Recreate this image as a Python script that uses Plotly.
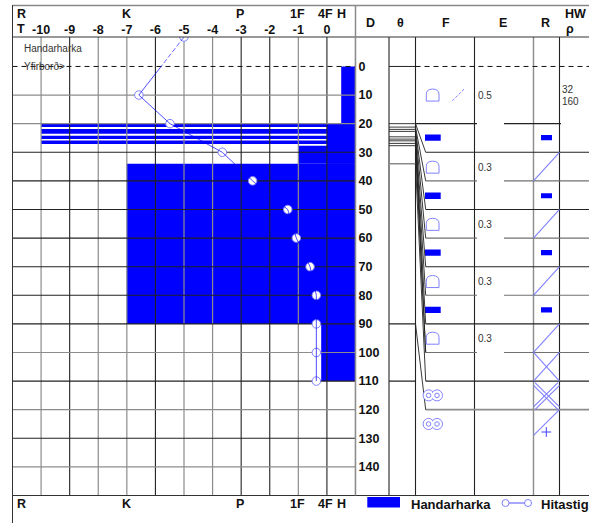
import plotly.graph_objects as go

W, H = 589, 523
FONT = "Liberation Sans"
BLUE = "#0000ff"
PALE = "#8080ff"
DARK = "#222222"
GRAY = "#8c8c8c"

# ---- data ----
x_ticks = [-10, -9, -8, -7, -6, -5, -4, -3, -2, -1, 0]
x_tick_labels = ["-10", "-9", "-8", "-7", "-6", "-5", "-4", "-3", "-2", "-1", "0"]
depth_ticks = [0, 10, 20, 30, 40, 50, 60, 70, 80, 90, 100, 110, 120, 130, 140]

hand_top = [0, 20, 19.9, 21.9, 24.2, 25.9, 27.7, 34, 90]
hand_bottom = [20, 34, 21.2, 23.5, 25.4, 27.1, 34, 90, 110]
hand_left = [0.5, 0, -10, -10, -10, -10, -1, -7, -0.2]
hand_right = [1, 1, 0, 0, 0, 0, 1, 1, 1]

temp_depth = [10, 20, 30, 40, 50, 60, 70, 80, 90, 100, 110]
temp_value = [-6.58, -5.49, -3.66, -2.6, -1.37, -1.07, -0.59, -0.37, -0.37, -0.37, -0.37]
temp_top_depth = [-10.3, 0]
temp_top_value = [-5.0, -5.8]

grid_x_dark = [-9, -6, -3, -2, 0]
grid_x_gray = [-10, -8, -7, -5, -4, -1, 1]
grid_y_dark = [30, 40, 50, 60, 70, 80, 90, 110, 130]
grid_y_gray = [10, 20, 100, 120, 140]

col_lines_dark = [389, 415.5, 474.5, 559.5]
col_lines_gray = [533.5]

full_rows_dark = [50, 70, 90, 110, 30]
split_rows_gray = [40, 60, 80, 100]

theta_depth = [20, 21.2, 22, 22.7, 24.6, 25.4, 26, 26.9, 27.7, 34, 90]
fan_depth = [30, 40, 50, 60, 70, 80, 90, 100, 100, 110, 120]

f_arch_depth = [10, 35.2, 55.2, 75.2, 95]
f_block_depth = [24.9, 45.2, 65.1, 85.1]
r_block_depth = [24.9, 45.2, 65.1, 85.1]
e_depth = [10, 35.2, 55.2, 75.2, 95]
e_text = ["0.5", "0.3", "0.3", "0.3", "0.3"]
twin_depth = [115, 125]
r_diag_rows = [(30, 40), (50, 60), (70, 80), (90, 100), (100, 110), (120, 129)]


def px(x):
    return x / W


def py(y):
    return 1 - y / H


def segs(items):
    xs, ys = [], []
    for x0, y0, x1, y1 in items:
        xs += [x0, x1, None]
        ys += [y0, y1, None]
    return xs, ys


fig = go.Figure()
Y_TOP = -10.3
Y_BOT = 150


def line(items, color, width=1.0, xaxis="x", dash=None):
    xs, ys = segs(items)
    fig.add_trace(go.Scatter(x=xs, y=ys, xaxis=xaxis, yaxis="y", mode="lines", hoverinfo="skip",
                             line=dict(color=color, width=width, dash=dash), showlegend=False))


# Handarharka bars
fig.add_trace(go.Bar(
    orientation="h",
    y=[(a + b) / 2 for a, b in zip(hand_top, hand_bottom)],
    width=[b - a for a, b in zip(hand_top, hand_bottom)],
    base=hand_left,
    x=[r - l for l, r in zip(hand_left, hand_right)],
    marker=dict(color=BLUE, line=dict(width=0)),
    showlegend=False, hoverinfo="skip",
))
# F and R blocks
fig.add_trace(go.Bar(orientation="h", xaxis="x2", yaxis="y", y=f_block_depth, width=[2.2] * 4,
                     base=[425] * 4, x=[15.7] * 4, marker=dict(color=BLUE, line=dict(width=0)),
                     showlegend=False, hoverinfo="skip"))
fig.add_trace(go.Bar(orientation="h", xaxis="x2", yaxis="y", y=r_block_depth, width=[1.8] * 4,
                     base=[541] * 4, x=[11] * 4, marker=dict(color=BLUE, line=dict(width=0)),
                     showlegend=False, hoverinfo="skip"))

# left grid
line([(v, Y_TOP, v, Y_BOT) for v in grid_x_gray], GRAY, 1.2)
line([(v, Y_TOP, v, Y_BOT) for v in grid_x_dark], DARK, 1.1)
line([(-11, v, 1, v) for v in grid_y_gray], GRAY, 1.2)
line([(-11, v, 1, v) for v in grid_y_dark], DARK, 1.1)
line([(-11, 0, 1, 0)], "#111111", 1, dash="5px,4px")

# right panel lines
line([(v, Y_TOP, v, Y_BOT) for v in col_lines_gray], GRAY, 1.4, "x2")
line([(v, Y_TOP, v, Y_BOT) for v in col_lines_dark], DARK, 1.1, "x2")
line([(389, 0, 415.5, 0)], DARK, 1, "x2")
line([(415.5, 0, 589, 0)], "#111111", 1, "x2", dash="5px,4px")
line([(415.5, 20, 477, 20), (504, 20, 561, 20)], DARK, 1.1, "x2")
line([(425.7, v, 589, v) for v in full_rows_dark], DARK, 1.1, "x2")
line([(425.7, 120, 589, 120)], GRAY, 1.8, "x2")
items = []
for v in split_rows_gray:
    items += [(425.7, v, 477, v), (504, v, 589, v)]
line(items, "#707070", 1.1, "x2")
line([(389, v, 415.5, v) for v in theta_depth[:9]], DARK, 0.9, "x2")
line([(389, 34, 415.5, 34)], GRAY, 1.5, "x2")
line([(389, v, 415.5, v) for v in [90, 110]], DARK, 1.1, "x2")
line([(415.5, a, 425.7, b) for a, b in zip(theta_depth, fan_depth)], "#222222", 0.9, "x2")

# R diagonals
line([(533.5, b, 559.5, a) for a, b in r_diag_rows], PALE, 1.1, "x2")
line([(533.5, 100, 559.5, 110)], PALE, 1.1, "x2")
line([(535, 110.5, 559.5, 119), (533.5, 111.5, 558, 120), (533.5, 119, 558, 110.5), (535, 120, 559.5, 111.5)],
     PALE, 1.1, "x2")
fig.add_trace(go.Scatter(x=[546.3], y=[127.8], xaxis="x2", yaxis="y", mode="markers", hoverinfo="skip",
                         marker=dict(symbol="cross-thin", size=7, line=dict(color="#4040ff", width=1)),
                         showlegend=False))
# slash in F column
line([(452.3, 12, 464.7, 7.7)], PALE, 1, "x2", dash="3px,1.5px")

# twin circles in F column
for cx in (428.6, 437):
    fig.add_trace(go.Scatter(x=[cx] * len(twin_depth), y=twin_depth, xaxis="x2", yaxis="y", mode="markers",
                             hoverinfo="skip", showlegend=False,
                             marker=dict(size=11, color="white", line=dict(color=PALE, width=1))))
for cx in (428.6, 437):
    fig.add_trace(go.Scatter(x=[cx] * len(twin_depth), y=twin_depth, xaxis="x2", yaxis="y", mode="markers",
                             hoverinfo="skip", showlegend=False,
                             marker=dict(size=9.5, color="white", line=dict(width=0))))
    fig.add_trace(go.Scatter(x=[cx] * len(twin_depth), y=twin_depth, xaxis="x2", yaxis="y", mode="markers",
                             hoverinfo="skip", showlegend=False,
                             marker=dict(size=4.5, color="white", line=dict(color=PALE, width=1))))

# temperature
fig.add_trace(go.Scatter(x=[temp_top_value[0]], y=[temp_top_depth[0]], mode="markers", hoverinfo="skip",
                         marker=dict(size=8.5, color="white", line=dict(color=PALE, width=1)), showlegend=False))
fig.add_trace(go.Scatter(x=temp_value, y=temp_depth, mode="markers", hoverinfo="skip",
                         marker=dict(size=8.5, color="white", line=dict(color=PALE, width=1)), showlegend=False))
fig.add_trace(go.Scatter(x=temp_top_value, y=temp_top_depth, mode="lines", hoverinfo="skip",
                         line=dict(color=BLUE, width=0.6, dash="5px,2px"), showlegend=False))
fig.add_trace(go.Scatter(x=[temp_top_value[1]] + temp_value, y=[temp_top_depth[1]] + temp_depth, mode="lines",
                         hoverinfo="skip", line=dict(color=BLUE, width=0.7), showlegend=False))

shapes = []
# arches in F column
for d in f_arch_depth:
    yt, ym, yb = d - 2.1, d - 0.2, d + 2.1
    x0, xc, x1 = 426.3, 432.6, 439
    shapes.append(dict(type="path", xref="x2", yref="y", line=dict(color=PALE, width=1),
                       path=f"M {x0} {yb} L {x0} {ym} Q {x0} {yt} {xc} {yt} Q {x1} {yt} {x1} {ym} L {x1} {yb} Z"))
# frame
frame = [(12.5, 5.5, 589, 5.5, "#888888", 1.5), (12.5, 37, 589, 37, "#333333", 1),
         (12.5, 495.5, 589, 495.5, "#333333", 1), (12.5, 5, 12.5, 523, "#333333", 1),
         (355.5, 5, 355.5, 495.5, GRAY, 1.5)]
for x0, y0, x1, y1, c, w in frame:
    shapes.append(dict(type="line", xref="paper", yref="paper", x0=px(x0), y0=py(y0), x1=px(x1), y1=py(y1),
                       line=dict(color=c, width=w)))
# legend
shapes.append(dict(type="rect", xref="paper", yref="paper", x0=px(367.3), x1=px(400), y0=py(507.5), y1=py(497),
                   fillcolor=BLUE, line=dict(width=0)))
shapes.append(dict(type="line", xref="paper", yref="paper", x0=px(505), x1=px(528), y0=py(503), y1=py(503),
                   line=dict(color="#5050ff", width=1)))
for cx in (505.5, 528):
    shapes.append(dict(type="circle", xref="paper", yref="paper", x0=px(cx - 3.5), x1=px(cx + 3.5),
                       y0=py(506.5), y1=py(499.5), line=dict(color=PALE, width=1), fillcolor="white"))

ann = []


def label(text, x, y, bold=True, size=12.5, anchor="center", color="#111111"):
    ann.append(dict(text=f"<b>{text}</b>" if bold else text, x=px(x), y=py(y), xref="paper", yref="paper",
                    showarrow=False, xanchor=anchor, yanchor="middle", borderpad=0,
                    font=dict(family=FONT, size=size, color=color)))


for y in (14, 504):
    for t, x in [("R", 21.5), ("K", 126), ("P", 240), ("1F", 297.5), ("4F", 325.5), ("H", 341)]:
        label(t, x, y)
label("T", 21, 29)
for t, x in [("D", 371), ("θ", 400), ("F", 445.5), ("E", 502.5), ("R", 545)]:
    label(t, x, 23)
label("HW", 575, 14)
label("ρ", 569.5, 29)
label("Handarharka", 410, 504, size=13, anchor="left")
label("Hitastig", 539.5, 504, size=13, anchor="left")
label("Handarharka", 23, 48.5, bold=False, size=10, anchor="left", color="#333333")
label("Yfirborð>", 23, 66, bold=False, size=10, anchor="left", color="#333333")
label("32", 561, 89, bold=False, size=10, anchor="left", color="#333333")
label("160", 561, 101, bold=False, size=10, anchor="left", color="#333333")
for d, t in zip(e_depth, e_text):
    ann.append(dict(text=t, x=485, y=d, xref="x2", yref="y", showarrow=False, xanchor="center", yanchor="middle",
                    font=dict(family=FONT, size=10, color="#333333")))

tickfont = dict(family=FONT, size=12.5, color="#111111", weight=700)
fig.update_layout(
    width=W, height=H, margin=dict(l=0, r=0, t=0, b=0), autosize=False,
    paper_bgcolor="white", plot_bgcolor="white", barmode="overlay", showlegend=False,
    shapes=shapes, annotations=ann,
    xaxis=dict(domain=[px(12.5), px(355.5)], range=[-11, 1], side="top", anchor="y", tickmode="array",
               tickvals=x_ticks, ticktext=x_tick_labels, tickfont=tickfont, ticks="", showgrid=False, zeroline=False,
               showline=False),
    xaxis2=dict(domain=[px(355.5), 1], range=[355.5, 589], anchor="y", visible=False, showgrid=False, zeroline=False),
    yaxis=dict(domain=[py(495.5), py(37)], range=[Y_BOT, Y_TOP], side="right", anchor="x", tickmode="array",
               tickvals=depth_ticks, ticktext=[str(v) for v in depth_ticks], tickfont=tickfont, ticks="",
               ticklabelstandoff=2, showgrid=False, zeroline=False, showline=False),
)
fig.write_html("out.html", config=dict(displayModeBar=False),
               post_script="document.body.style.margin='0';")
